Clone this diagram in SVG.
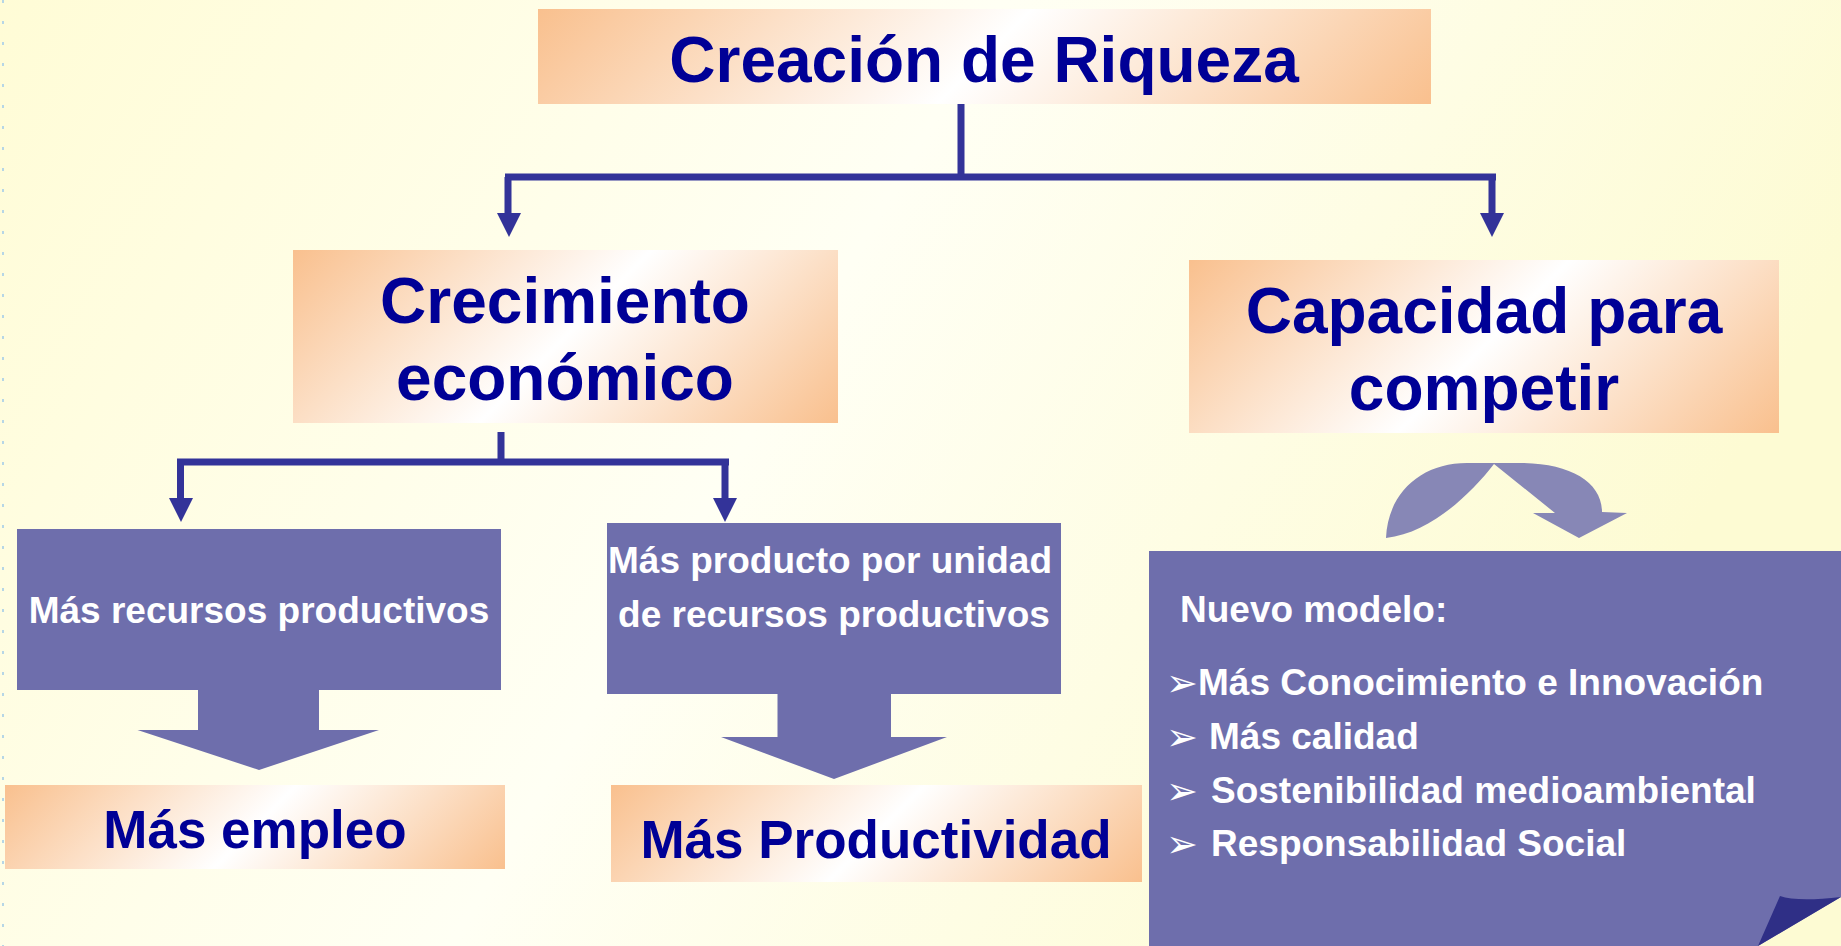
<svg xmlns="http://www.w3.org/2000/svg" width="1841" height="946" viewBox="0 0 1841 946">
<defs>
<linearGradient id="bg" x1="0" y1="0" x2="1" y2="0.3">
<stop offset="0" stop-color="#fffcd6"/>
<stop offset="0.5" stop-color="#fffff4"/>
<stop offset="1" stop-color="#fdfbd3"/>
</linearGradient>
<linearGradient id="g1" gradientUnits="userSpaceOnUse" x1="538" y1="9" x2="1032" y2="503">
<stop offset="0" stop-color="#f9c08e"/><stop offset="0.5" stop-color="#ffffff"/><stop offset="1" stop-color="#f9c08e"/>
</linearGradient>
<linearGradient id="g2" gradientUnits="userSpaceOnUse" x1="293" y1="250" x2="652" y2="609">
<stop offset="0" stop-color="#f9c08e"/><stop offset="0.5" stop-color="#ffffff"/><stop offset="1" stop-color="#f9c08e"/>
</linearGradient>
<linearGradient id="g3" gradientUnits="userSpaceOnUse" x1="1189" y1="260" x2="1570" y2="641">
<stop offset="0" stop-color="#f9c08e"/><stop offset="0.5" stop-color="#ffffff"/><stop offset="1" stop-color="#f9c08e"/>
</linearGradient>
<linearGradient id="g4" gradientUnits="userSpaceOnUse" x1="5" y1="785" x2="297" y2="1077">
<stop offset="0" stop-color="#f9c08e"/><stop offset="0.5" stop-color="#ffffff"/><stop offset="1" stop-color="#f9c08e"/>
</linearGradient>
<linearGradient id="g5" gradientUnits="userSpaceOnUse" x1="611" y1="785" x2="925" y2="1099">
<stop offset="0" stop-color="#f9c08e"/><stop offset="0.5" stop-color="#ffffff"/><stop offset="1" stop-color="#f9c08e"/>
</linearGradient>
</defs>
<style>
.big{font-family:"Liberation Sans",Arial,sans-serif;font-weight:bold;fill:#000096;text-anchor:middle}
.wt{font-family:"Liberation Sans",Arial,sans-serif;font-weight:bold;fill:#ffffff;font-size:37px}
.blue{fill:#6e6eac}
.ln{stroke:#333399;stroke-width:7;fill:none}
.ah{fill:#333399}
.bul{font-family:"DejaVu Sans",sans-serif;font-weight:normal;font-size:38px}
</style>
<rect width="1841" height="946" fill="url(#bg)"/>
<line x1="3" y1="0" x2="3" y2="946" stroke="#b6d6e6" stroke-width="2" stroke-dasharray="3 18"/>

<g id="connectors">
<path class="ln" d="M961,103 V177 M505,177 H1496 M508,177 V216 M1492,177 V216"/>
<polygon class="ah" points="497,213 521,213 509,237"/>
<polygon class="ah" points="1480,213 1504,213 1492,237"/>
<path class="ln" d="M501,432 V462 M177,462 H729 M180.5,462 V500 M725,462 V500"/>
<polygon class="ah" points="169,498 193,498 181,522"/>
<polygon class="ah" points="713,498 737,498 725,522"/>
</g>

<g id="n-creacion">
<rect x="538" y="9" width="893" height="95" fill="url(#g1)"/>
<text class="big" x="984" y="82" font-size="64">Creación de Riqueza</text>
</g>

<g id="n-crecimiento">
<rect x="293" y="250" width="545" height="173" fill="url(#g2)"/>
<text class="big" x="565" y="323" font-size="64">Crecimiento</text>
<text class="big" x="565" y="400" font-size="64">económico</text>
</g>

<g id="n-capacidad">
<rect x="1189" y="260" width="590" height="173" fill="url(#g3)"/>
<text class="big" x="1484" y="333" font-size="64">Capacidad para</text>
<text class="big" x="1484" y="410" font-size="64">competir</text>
</g>

<g id="n-recursos">
<rect class="blue" x="17" y="529" width="484" height="161"/>
<polygon class="blue" points="198,688 319,688 319,730 379,730 259,770 137.5,730 198,730"/>
<text class="wt" x="259" y="623" text-anchor="middle">Más recursos productivos</text>
</g>

<g id="n-producto">
<rect class="blue" x="607" y="523" width="454" height="171"/>
<polygon class="blue" points="777.5,692 891,692 891,737 947,737 834,779 721,737 777.5,737"/>
<text class="wt" x="830" y="573" text-anchor="middle">Más producto por unidad</text>
<text class="wt" x="834" y="627" text-anchor="middle">de recursos productivos</text>
</g>

<g id="n-empleo">
<rect x="5" y="785" width="500" height="84" fill="url(#g4)"/>
<text class="big" x="255" y="848" font-size="53">Más empleo</text>
</g>

<g id="n-productividad">
<rect x="611" y="785" width="531" height="97" fill="url(#g5)"/>
<text class="big" x="876" y="858" font-size="53">Más Productividad</text>
</g>

<g id="curved-arrow">
<path fill="#8787b6" d="M1386,538 C1388,492 1422,463 1467,463 L1520,463 C1570,463 1602,482 1602,512 L1627,513 L1579,538 L1533,513 L1555,513 L1494,464 C1470,495 1430,533 1386,538 Z"/>
</g>

<g id="n-nuevo-modelo">
<polygon class="blue" points="1149,551 1841,551 1841,897 1758,946 1149,946"/>
<path fill="#2f2f86" d="M1780,896 Q1797,902 1841,897 L1758,946 Z"/>
<text class="wt" x="1180" y="622">Nuevo modelo:</text>
<text class="wt" y="696"><tspan class="bul" x="1166">➢</tspan><tspan x="1198" y="695">Más Conocimiento e Innovación</tspan></text>
<text class="wt" y="750"><tspan class="bul" x="1166">➢</tspan><tspan x="1209" y="749">Más calidad</tspan></text>
<text class="wt" y="804"><tspan class="bul" x="1166">➢</tspan><tspan x="1211" y="803">Sostenibilidad medioambiental</tspan></text>
<text class="wt" y="857"><tspan class="bul" x="1166">➢</tspan><tspan x="1211" y="856">Responsabilidad Social</tspan></text>
</g>
</svg>
